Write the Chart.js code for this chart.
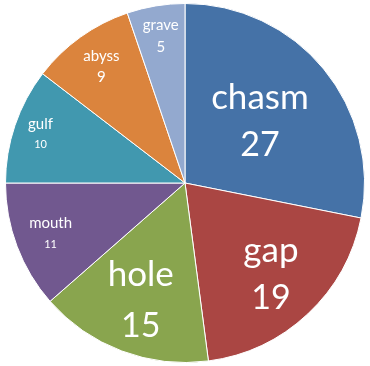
<!DOCTYPE html>
<html>
<head>
<meta charset="utf-8">
<script src="https://cdn.jsdelivr.net/npm/chart.js@4"></script>
<style>
  html, body { margin:0; padding:0; background:#fff; }
  #wrap { width:370px; height:366px; }
</style>
</head>
<body>
<div id="wrap"><canvas id="chPie" width="370" height="366"></canvas></div>
<script>
// data
const labels = ['chasm','gap','hole','mouth','gulf','abyss','grave'];
const values = [27, 19, 15, 11, 10, 9, 5];
const colors = ['#4572A7','#AA4643','#89A54E','#71588F','#4198AF','#DB843D','#93A9CF'];

// label styling per slice: name size, number size, radius fraction, line gap
const nameSize = [35, 35, 35, 15, 15, 15, 15];
const numSize  = [34, 34, 34, 11, 11, 15, 15];
const labelPos = [0.54, 0.70, 0.70, 0.80, 0.85, 0.80, 0.83];
const lineGap  = [48, 47, 51, 21, 20, 21, 22];

const sliceLabels = {
  id:'sliceLabels',
  afterDatasetsDraw(chart) {
    const ctx = chart.ctx;
    const arcs = chart.getDatasetMeta(0).data;
    ctx.save();
    ctx.fillStyle = '#fff';
    ctx.textAlign = 'center';
    ctx.textBaseline = 'middle';
    arcs.forEach((a,i) => {
      const mid = (a.startAngle + a.endAngle) / 2;
      const r = a.outerRadius * labelPos[i];
      const cx = a.x + Math.cos(mid) * r;
      const cy = a.y + Math.sin(mid) * r;
      ctx.font = nameSize[i] + 'px Lato';
      ctx.fillText(labels[i], cx, cy - lineGap[i]/2);
      ctx.font = numSize[i] + 'px Lato';
      ctx.fillText(String(values[i]), cx, cy + lineGap[i]/2);
    });
    ctx.restore();
  }
};

new Chart(document.getElementById('chPie'), {
  type:'pie',
  data:{ labels, datasets:[{ data:values, backgroundColor:colors, borderColor:'#fff', borderWidth:1 }] },
  options:{ responsive:false, animation:false,
    layout:{ padding:3 },
    plugins:{ legend:{ display:false }, tooltip:{ enabled:false } } },
  plugins:[sliceLabels],
});
</script>
</body>
</html>
